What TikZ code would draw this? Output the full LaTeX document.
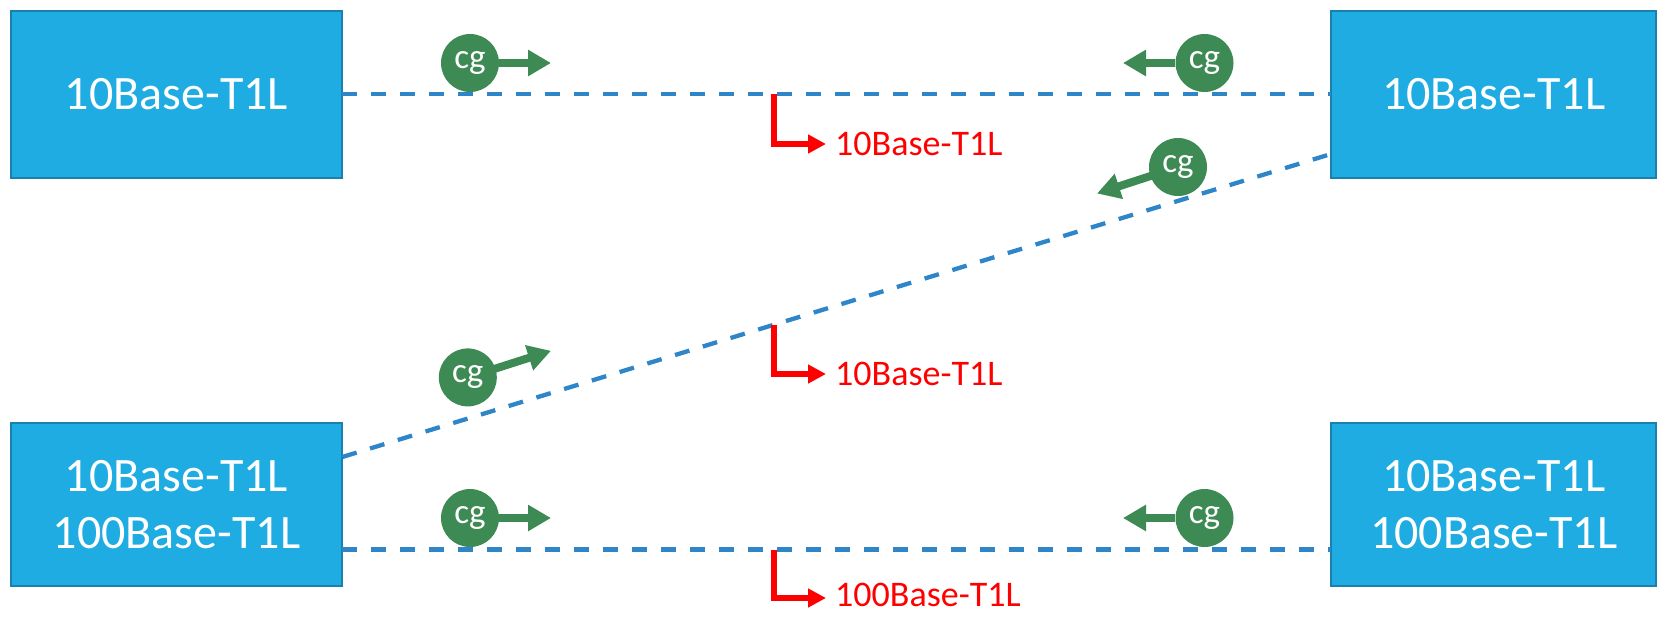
\documentclass[tikz,border=0pt]{standalone}
\usepackage{fontspec}
\setmainfont{Carlito}
\usetikzlibrary{arrows.meta}
\definecolor{boxfill}{HTML}{1EACE2}
\definecolor{boxdraw}{HTML}{1A80AE}
\definecolor{linkblue}{HTML}{2E86C8}
\definecolor{cggreen}{HTML}{3E8A54}
\definecolor{tagred}{HTML}{FF0000}
\tikzset{
  phybox/.style={draw=boxdraw, fill=boxfill, line width=2pt, text=white, inner sep=0pt,
    font=\fontsize{48}{57}\selectfont, align=center},
  link/.style={linkblue, line width=4.3pt, dash pattern=on 15pt off 14pt},
  cgnode/.style={circle, fill=cggreen, text=white, minimum size=58pt, inner sep=0pt,
    font=\fontsize{35}{38}\selectfont},
  cgarrow/.style={cggreen, line width=8pt, -{Triangle[length=23pt,width=25pt]}},
  tag/.style={tagred, line width=6pt, line join=miter, -{Triangle[length=18pt,width=18pt]}},
  taglabel/.style={text=tagred, anchor=west, inner sep=0pt, font=\fontsize{36}{40}\selectfont}
}
\begin{document}
\begin{tikzpicture}[x=1pt,y=-1pt]
\useasboundingbox (0,0) rectangle (1667,616);
% boxes
\node[phybox, minimum width=331pt, minimum height=167pt] (tl) at (176.5,94) {10Base-T1L};
\node[phybox, minimum width=325pt, minimum height=167pt] (tr) at (1493.7,94) {10Base-T1L};
\node[phybox, minimum width=331pt, minimum height=163pt] (bl) at (176.5,504.6) {10Base-T1L\\100Base-T1L};
\node[phybox, minimum width=325pt, minimum height=163pt] (br) at (1493.7,504.6) {10Base-T1L\\100Base-T1L};
% links
\coordinate (tlA) at (342.3,94);
\coordinate (trA) at (1331,94);
\coordinate (blB) at (342.3,457);
\coordinate (trB) at (1331,154);
\coordinate (blC) at (342.3,549.6);
\coordinate (brC) at (1331,549.6);
\draw[link] (tlA) -- (trA);
\draw[link] (blB) -- (trB);
\draw[link] (blC) -- (brC);
% red tags
\coordinate (t1a) at (773.7,94);
\coordinate (t1b) at (773.7,144);
\coordinate (t1c) at (826,144);
\node[taglabel] (l1) at (835,144) {10Base-T1L};
\draw[tag] (t1a) -- (t1b) -- (t1c);
\coordinate (t2a) at (773.7,325);
\coordinate (t2b) at (773.7,374);
\coordinate (t2c) at (826,374);
\node[taglabel] (l2) at (835,374) {10Base-T1L};
\draw[tag] (t2a) -- (t2b) -- (t2c);
\coordinate (t3a) at (773.7,549.6);
\coordinate (t3b) at (773.7,598);
\coordinate (t3c) at (826,598);
\node[taglabel] (l3) at (835,595) {100Base-T1L};
\draw[tag] (t3a) -- (t3b) -- (t3c);
% cg markers
\node[cgnode] (cg1) at (470,63) {cg};
\coordinate (cg1e) at (551,63);
\draw[cgarrow] (cg1.east) -- (cg1e);
\node[cgnode] (cg2) at (1204.5,63) {cg};
\coordinate (cg2e) at (1123,63);
\draw[cgarrow] (cg2.west) -- (cg2e);
\coordinate (cg3e) at (1097,193.5);
\coordinate (cg4e) at (551,350.8);
\draw[cgarrow] (1178,167) -- (cg3e);
\draw[cgarrow] (467.8,377.4) -- (cg4e);
\node[cgnode] (cg3) at (1178,167) {cg};
\node[cgnode] (cg4) at (467.8,377.4) {cg};
\node[cgnode] (cg5) at (470,518) {cg};
\coordinate (cg5e) at (551,518);
\draw[cgarrow] (cg5.east) -- (cg5e);
\node[cgnode] (cg6) at (1204.5,518) {cg};
\coordinate (cg6e) at (1123,518);
\draw[cgarrow] (cg6.west) -- (cg6e);
\end{tikzpicture}
\end{document}
